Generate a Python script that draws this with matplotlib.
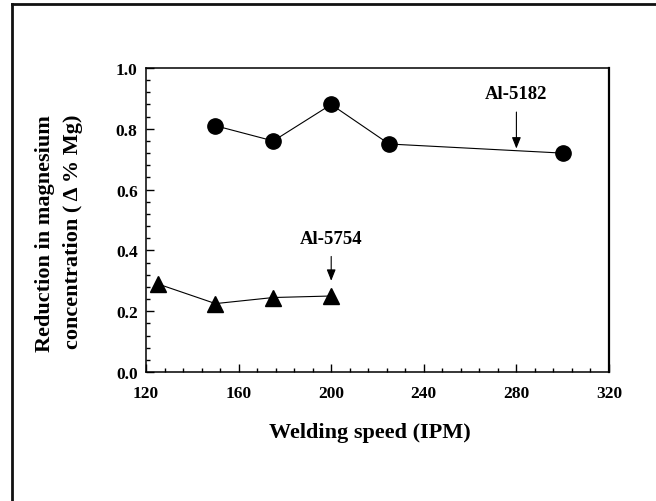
import matplotlib
matplotlib.use("Agg")
import matplotlib.pyplot as plt
from matplotlib.lines import Line2D
from matplotlib.ticker import MultipleLocator

# Data
speed_5182 = [150, 175, 200, 225, 300]
mg_5182 = [0.81, 0.76, 0.88, 0.75, 0.72]
speed_5754 = [125, 150, 175, 200]
mg_5754 = [0.29, 0.225, 0.245, 0.25]
x_ticks = [120, 160, 200, 240, 280, 320]
y_ticks = [0.0, 0.2, 0.4, 0.6, 0.8, 1.0]

plt.rcParams['font.family'] = ['Liberation Serif', 'DejaVu Serif']
plt.rcParams['font.weight'] = 'bold'

fig = plt.figure(figsize=(6.56, 5.02), dpi=100)
ax = fig.add_axes([146/656, 1-373/502, (609-146)/656, (373-69)/502])

ax.plot(speed_5182, mg_5182, color='black', lw=0.8, marker='o', ms=11,
        mfc='black', mec='black', zorder=3)
ax.plot(speed_5754, mg_5754, color='black', lw=0.8, marker='^', ms=11.5,
        mfc='black', mec='black', zorder=3)

ax.set_xlim(120, 320)
ax.set_ylim(0, 1.0)
ax.set_xticks(x_ticks)
ax.set_yticks(y_ticks)
ax.set_xticklabels([str(v) for v in x_ticks])
ax.set_yticklabels([f"{v:.1f}" for v in y_ticks])
ax.xaxis.set_minor_locator(MultipleLocator(8))
ax.yaxis.set_minor_locator(MultipleLocator(0.04))
ax.tick_params(which='both', direction='in', top=False, right=False,
               width=1.0, labelsize=12.5)
ax.tick_params(which='major', length=6)
ax.tick_params(which='minor', length=3)
ax.tick_params(axis='x', pad=9)
ax.tick_params(axis='y', pad=6)
for lab in ax.get_xticklabels() + ax.get_yticklabels():
    lab.set_fontweight('bold')
for s in ax.spines.values():
    s.set_linewidth(1.1)
ax.spines['right'].set_linewidth(1.6)

ax.annotate('Al-5182', xy=(280, 0.735), xytext=(280, 0.915),
            ha='center', va='center', fontsize=13.5, fontweight='bold',
            arrowprops=dict(arrowstyle='-|>,head_length=0.5,head_width=0.2',
                            color='black', lw=0.8, shrinkA=5, shrinkB=0))
ax.annotate('Al-5754', xy=(200, 0.30), xytext=(200, 0.44),
            ha='center', va='center', fontsize=13.5, fontweight='bold',
            arrowprops=dict(arrowstyle='-|>,head_length=0.5,head_width=0.2',
                            color='black', lw=0.8, shrinkA=5, shrinkB=0))

fig.text(370/656, 1-433/502, 'Welding speed (IPM)', ha='center',
         va='center', fontsize=16, fontweight='bold')
fig.text(45/656, 1-234/502, 'Reduction in magnesium', rotation=90,
         ha='center', va='center', fontsize=16, fontweight='bold')
fig.text(73/656, 1-232/502, 'concentration ( Δ % Mg)', rotation=90,
         ha='center', va='center', fontsize=16, fontweight='bold')

# outer frame (left and top edges)
fig.add_artist(Line2D([12/656, 12/656], [0, 1-5/502], transform=fig.transFigure,
                      color='#111111', lw=2.0))
fig.add_artist(Line2D([12/656, 1], [1-5/502, 1-5/502], transform=fig.transFigure,
                      color='#111111', lw=2.0))

fig.savefig('out.png', dpi=100)
